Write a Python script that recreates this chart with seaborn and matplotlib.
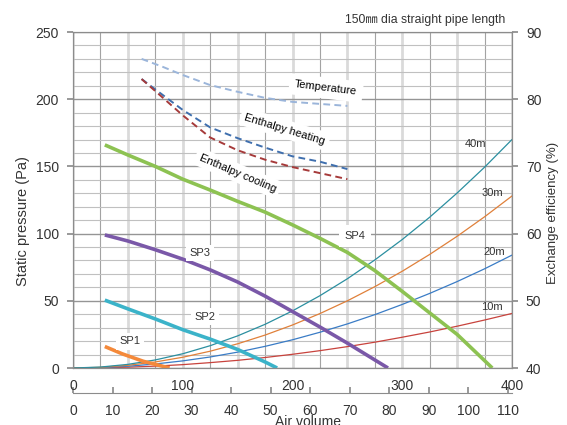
import matplotlib
matplotlib.use("Agg")
import matplotlib.pyplot as plt
import seaborn as sns
from matplotlib.ticker import FuncFormatter, MultipleLocator

# static pressure (Pa) vs air volume (m3/h)
sp1_flow = [29, 45, 64, 88]
sp1_pa = [16, 10.5, 5, 0]
sp2_flow = [29, 50, 75, 100, 125, 150, 175, 186]
sp2_pa = [50.5, 44, 36.5, 28.5, 21.5, 13.8, 4.5, 0]
sp3_flow = [29, 50, 75, 100, 125, 150, 175, 200, 225, 250, 275, 287]
sp3_pa = [99, 94.5, 88, 81, 73, 64, 53.5, 42, 30.5, 18.5, 6, 0]
sp4_flow = [29, 50, 75, 100, 125, 150, 175, 200, 225, 250, 275, 300, 325, 350, 375, 382]
sp4_pa = [166, 158.5, 150, 140.5, 132.4, 124, 116, 106.5, 96.5, 86, 72.5, 57, 41, 25, 5.5, 0]

# pipe resistance curves
pipe_flow = [0, 25, 50, 75, 100, 125, 150, 175, 200, 225, 250, 275, 300, 325, 350, 375, 400]
pipe_40m = [0, 0.7, 2.7, 6, 10.6, 16.6, 23.9, 32.5, 42.5, 53.8, 66.4, 80.4, 95.6, 112.2, 130.2, 149.4, 170]
pipe_30m = [0, 0.5, 2, 4.5, 8, 12.5, 18, 24.5, 32, 40.5, 50, 60.5, 72, 84.5, 98, 112.5, 128]
pipe_20m = [0, 0.3, 1.3, 3, 5.3, 8.2, 11.8, 16.1, 21, 26.6, 32.8, 39.7, 47.3, 55.5, 64.3, 73.8, 84]
pipe_10m = [0, 0.2, 0.6, 1.4, 2.5, 4, 5.7, 7.8, 10.2, 12.9, 15.9, 19.2, 22.9, 26.8, 31.1, 35.7, 40.6]

# exchange efficiency (%)
eff_flow = [62.5, 82, 100, 125, 150, 175, 200, 225, 250]
eff_temp = [86.0, 84.8, 83.6, 82.1, 81.1, 80.2, 79.6, 79.3, 79.0]
eff_heat = [83.0, 80.6, 78.4, 75.8, 74.2, 72.8, 71.5, 70.7, 69.6]
eff_cool = [83.0, 80.2, 77.6, 74.3, 72.4, 71.0, 69.9, 69.0, 68.1]

ls_ticks = [0, 10, 20, 30, 40, 50, 60, 70, 80, 90, 100, 110]

sns.set_theme(style="white")
plt.rcParams['font.family'] = ['Liberation Sans', 'Noto Sans CJK JP', 'DejaVu Sans']

fig = plt.figure(figsize=(5.67, 4.25), dpi=100)
ax = fig.add_axes([73 / 567, 57 / 425, 439 / 567, 336 / 425])
ax2 = ax.twinx()

txt = '#333333'
spine_c = '#8c8c8c'

# grid
ax.set_xlim(0, 400)
ax.set_ylim(0, 250)
ax.xaxis.set_major_locator(MultipleLocator(50))
ax.xaxis.set_minor_locator(MultipleLocator(25))
ax.yaxis.set_major_locator(MultipleLocator(50))
ax.yaxis.set_minor_locator(MultipleLocator(10))
ax.xaxis.set_major_formatter(FuncFormatter(lambda v, p: f"{int(v)}" if v % 100 == 0 else ""))
ax.grid(axis='x', which='major', color='#dadada', lw=2.0)
ax.grid(axis='x', which='minor', color='#a3a3a3', lw=0.8)
ax.grid(axis='y', which='major', color='#959595', lw=1.0)
ax.grid(axis='y', which='minor', color='#c0c0c0', lw=0.8)
ax.set_axisbelow(True)

# pipe curves
sns.lineplot(x=pipe_flow, y=pipe_10m, ax=ax, color='#c8433d', lw=0.9)
sns.lineplot(x=pipe_flow, y=pipe_20m, ax=ax, color='#3a7cc6', lw=0.9)
sns.lineplot(x=pipe_flow, y=pipe_30m, ax=ax, color='#e0803a', lw=0.9)
sns.lineplot(x=pipe_flow, y=pipe_40m, ax=ax, color='#2b8fa0', lw=0.9)

# fan curves
sns.lineplot(x=sp1_flow, y=sp1_pa, ax=ax, color='#f4893a', lw=2.6, solid_capstyle='butt')
sns.lineplot(x=sp2_flow, y=sp2_pa, ax=ax, color='#3bb3c9', lw=2.6, solid_capstyle='butt')
sns.lineplot(x=sp3_flow, y=sp3_pa, ax=ax, color='#7a58a8', lw=2.6, solid_capstyle='butt')
sns.lineplot(x=sp4_flow, y=sp4_pa, ax=ax, color='#8dc252', lw=2.6, solid_capstyle='butt')

# efficiency curves
ax2.set_ylim(40, 90)
ax2.yaxis.set_major_locator(MultipleLocator(10))
ax2.grid(False)
dash = (0, (3.5, 2.2))
sns.lineplot(x=eff_flow, y=eff_temp, ax=ax2, color='#9bb5da', lw=1.4, linestyle=dash)
sns.lineplot(x=eff_flow, y=eff_heat, ax=ax2, color='#3f6fae', lw=1.4, linestyle=dash)
sns.lineplot(x=eff_flow, y=eff_cool, ax=ax2, color='#a63a3a', lw=1.4, linestyle=dash)

for a in (ax, ax2):
    for s in a.spines.values():
        s.set_color(spine_c)
        s.set_linewidth(0.8)

ax.tick_params(axis='x', which='both', length=0, pad=8, labelsize=10, labelcolor=txt)
ax.tick_params(axis='y', which='major', left=True, length=4, color=spine_c, pad=6, labelsize=10, labelcolor=txt)
ax.tick_params(axis='y', which='minor', length=0)
ax2.tick_params(axis='y', right=True, length=4, color=spine_c, pad=6, labelsize=10, labelcolor=txt)
ax.set_xlabel('')
ax.set_ylabel('')
ax2.set_ylabel('')

# second air volume scale in L/s
sec = ax.secondary_xaxis(-25 / 336, functions=(lambda q: q / 3.6, lambda q: q * 3.6))
sec.set_xticks(ls_ticks)
sec.tick_params(direction='in', length=4, color=spine_c, pad=8, labelsize=10, labelcolor=txt)
sec.spines['bottom'].set_color(spine_c)
sec.spines['bottom'].set_linewidth(0.8)

# labels on the curves
box = dict(fc='white', ec='none', pad=2.5)
tr = ax.transData
ax2.text(52, 20, 'SP1', transform=tr, fontsize=8, color=txt, ha='center', va='center', bbox=box)
ax2.text(120, 38, 'SP2', transform=tr, fontsize=8, color=txt, ha='center', va='center', bbox=box)
ax2.text(116, 85.6, 'SP3', transform=tr, fontsize=8, color=txt, ha='center', va='center', bbox=box)
ax2.text(257, 98.2, 'SP4', transform=tr, fontsize=8, color=txt, ha='center', va='center', bbox=dict(fc='white', ec='none', pad=4))
ax2.text(367, 166.7, '40m', transform=tr, fontsize=8, color=txt, ha='center', va='center')
ax2.text(382, 130.2, '30m', transform=tr, fontsize=8, color=txt, ha='center', va='center')
ax2.text(384, 86.5, '20m', transform=tr, fontsize=8, color=txt, ha='center', va='center')
ax2.text(382, 45.4, '10m', transform=tr, fontsize=8, color=txt, ha='center', va='center')
ax2.text(230.5, 208.3, 'Temperature', transform=tr, fontsize=8, color='black', ha='center', va='center',
         rotation=-7, bbox=dict(fc='white', ec='none', pad=4))
ax2.text(193, 177.8, 'Enthalpy heating', transform=tr, fontsize=8, color='black', ha='center', va='center',
         rotation=-17, bbox=dict(fc='white', ec='none', pad=3))
ax2.text(150, 145, 'Enthalpy cooling', transform=tr, fontsize=8, color='black', ha='center', va='center',
         rotation=-23, bbox=dict(fc='white', ec='none', pad=3))

fig.text(505 / 567, 1 - 20 / 425, '150㎜ dia straight pipe length', fontsize=8.8, color=txt, ha='right', va='center')
fig.text(23 / 567, 1 - 221 / 425, 'Static pressure (Pa)', fontsize=10.5, color=txt, rotation=90, ha='center', va='center')
fig.text(553 / 567, 1 - 213 / 425, 'Exchange efficiency (%)', fontsize=9.5, color=txt, rotation=90, ha='center', va='center')
fig.text(308 / 567, 1 - 422 / 425, 'Air volume', fontsize=10, color=txt, ha='center', va='center')

fig.savefig('out.png', dpi=100)
